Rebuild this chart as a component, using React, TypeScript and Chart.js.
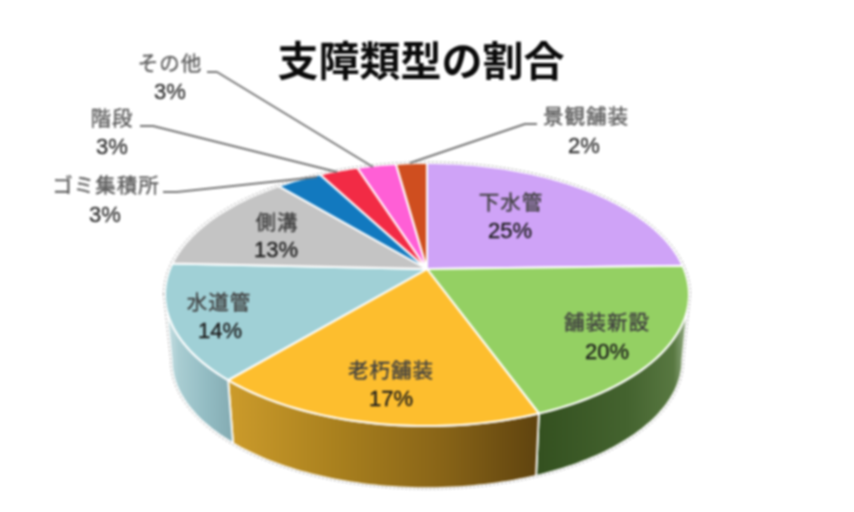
import { useEffect, useRef } from "react";
import { Chart, registerables } from "chart.js";

Chart.register(...registerables);

const categories = ["下水管", "舗装新設", "老朽舗装", "水道管", "側溝", "ゴミ集積所", "階段", "その他", "景観舗装"];
const shares = [24.6, 19.6, 17.3, 14.2, 12.8, 3.4, 2.9, 2.9, 2.3];
const sliceColors = ["#cfa3f7", "#94d063", "#fdbe2e", "#a0d0d6", "#c4c4c4", "#1279bf", "#f22b45", "#ff5fd6", "#cf4e1f"];
const chartTitle = "支障類型の割合";

// side wall shading, only the three front slices show a wall
const wallStops: Record<number, [number, string][]> = {
  1: [[0, "#33501f"], [0.6, "#44632f"], [0.9, "#587841"], [1, "#a3b895"]],
  2: [[0, "#cc9b2b"], [0.35, "#a9801e"], [0.7, "#876317"], [1, "#5f430f"]],
  3: [[0, "#cfe3e6"], [0.2, "#a9cdd2"], [0.6, "#93bcc3"], [1, "#84abb2"]],
};

// where each label sits: name x/y, percent x/y
const labelSpots = [
  [511, 202, 510, 232],
  [607, 322, 607, 353],
  [391, 370, 391, 400],
  [219, 302, 220, 332],
  [277, 222, 276, 251],
  [106, 185, 105, 216],
  [112, 118, 112, 148],
  [170, 63, 170, 93],
  [586, 116, 584, 147],
];

// leader lines for the small slices
const leaders: Record<number, number[][]> = {
  5: [[163, 192], [177, 192], [317, 177]],
  6: [[140, 126], [153, 126], [337, 172]],
  7: [[207, 72], [217, 72], [373, 167]],
  8: [[537, 124], [525, 124], [410, 163]],
};

// tilted disc
const CX = 427;
const CY = 269;
const R = 257;
const A = 126.6;
const K = 0.194;
const WALL_SCALE = 0.975;
const WALL_DROP = 66;
const WALL_FROM = (11 * Math.PI) / 180;
const WALL_TO = (169 * Math.PI) / 180;

const project = (a: number) => {
  const x = Math.cos(a);
  const y = Math.sin(a);
  const d = 1 - K * y;
  return [CX + (R * x) / d, CY + (A * y) / d];
};

const projectLow = (a: number) => {
  const [px, py] = project(a);
  return [CX + (px - CX) * WALL_SCALE, CY + (py - CY) * WALL_SCALE + WALL_DROP];
};

const rimPath = (ctx: CanvasRenderingContext2D, from: number, to: number, fn: (a: number) => number[], move = false) => {
  const steps = Math.max(2, Math.ceil(Math.abs(to - from) / 0.02));
  for (let i = 0; i <= steps; i++) {
    const [x, y] = fn(from + ((to - from) * i) / steps);
    if (i === 0 && move) ctx.moveTo(x, y);
    else ctx.lineTo(x, y);
  }
};

const discPlugin = {
  id: "disc",
  beforeDatasetsDraw(chart: any) {
    const ctx: CanvasRenderingContext2D = chart.ctx;
    const arcs = chart.getDatasetMeta(0).data;
    const colors = chart.data.datasets[0].backgroundColor;
    ctx.save();

    // walls first
    arcs.forEach((arc: any, i: number) => {
      const from = Math.max(arc.startAngle, WALL_FROM);
      const to = Math.min(arc.endAngle, WALL_TO);
      if (to <= from || !wallStops[i]) return;
      const xs = [project(from)[0], project(to)[0], projectLow(from)[0], projectLow(to)[0]];
      const g = ctx.createLinearGradient(Math.min(...xs), 0, Math.max(...xs), 0);
      wallStops[i].forEach(([p, c]) => g.addColorStop(p, c));
      ctx.beginPath();
      rimPath(ctx, from, to, project, true);
      rimPath(ctx, to, from, projectLow);
      ctx.closePath();
      ctx.fillStyle = g;
      ctx.fill();
      ctx.strokeStyle = "#ffffff";
      ctx.lineWidth = 1.8;
      ctx.stroke();
    });

    // top face
    arcs.forEach((arc: any, i: number) => {
      ctx.beginPath();
      ctx.moveTo(CX, CY);
      rimPath(ctx, arc.startAngle, arc.endAngle, project);
      ctx.closePath();
      ctx.fillStyle = colors[i];
      ctx.fill();
      ctx.strokeStyle = "#ffffff";
      ctx.lineWidth = 2;
      ctx.lineJoin = "round";
      ctx.stroke();
    });

    // faint dotted outline round the whole shape
    ctx.beginPath();
    rimPath(ctx, WALL_TO, WALL_FROM + Math.PI * 2, (a) => {
      const [x, y] = project(a);
      return [CX + (x - CX) * 1.006, 294 + (y - 294) * 1.008];
    }, true);
    rimPath(ctx, WALL_FROM, WALL_TO, (a) => {
      const [x, y] = projectLow(a);
      return [CX + (x - CX) * 1.004, y + 1];
    });
    ctx.closePath();
    ctx.setLineDash([2, 2]);
    ctx.strokeStyle = "rgba(110,110,110,0.65)";
    ctx.lineWidth = 1;
    ctx.stroke();
    ctx.setLineDash([]);
    ctx.restore();
    return false;
  },
  afterDraw(chart: any) {
    const ctx: CanvasRenderingContext2D = chart.ctx as any;
    ctx.save();
    ctx.textAlign = "center";
    ctx.textBaseline = "middle";
    ctx.lineJoin = "round";

    ctx.fillStyle = "#0a0a0a";
    ctx.font = '700 41px "Noto Sans CJK JP"';
    (ctx as any).letterSpacing = "0px";
    ctx.fillText(chartTitle, 421, 60);

    Object.values(leaders).forEach((pts) => {
      ctx.beginPath();
      pts.forEach(([x, y], n) => (n === 0 ? ctx.moveTo(x, y) : ctx.lineTo(x, y)));
      ctx.strokeStyle = "#757575";
      ctx.lineWidth = 2;
      ctx.stroke();
    });

    categories.forEach((name, i) => {
      const [nx, ny, px, py] = labelSpots[i];
      const outside = !!leaders[i];
      const nameColor = outside ? "#5c5c5c" : "#404040";
      ctx.fillStyle = nameColor;
      ctx.strokeStyle = nameColor;
      ctx.lineWidth = 0.35;
      ctx.font = '400 20.5px "Noto Sans CJK JP"';
      (ctx as any).letterSpacing = "1px";
      ctx.fillText(name, nx, ny);
      ctx.strokeText(name, nx, ny);
      const pctColor = outside ? "#303030" : "#1c1c1c";
      ctx.fillStyle = pctColor;
      ctx.strokeStyle = pctColor;
      ctx.font = '400 22px "Liberation Sans"';
      (ctx as any).letterSpacing = "0px";
      ctx.fillText(`${Math.round(shares[i])}%`, px, py);
      ctx.strokeText(`${Math.round(shares[i])}%`, px, py);
    });
    ctx.restore();
  },
};

export default function App() {
  const canvasRef = useRef<HTMLCanvasElement | null>(null);

  useEffect(() => {
    if (!canvasRef.current) return;
    const chart = new Chart(canvasRef.current, {
      type: "pie",
      data: {
        labels: categories,
        datasets: [{ data: shares, backgroundColor: sliceColors, borderColor: "#ffffff" }],
      },
      options: {
        responsive: false,
        animation: false,
        plugins: {
          legend: { display: false },
          tooltip: { enabled: false },
        },
      },
      plugins: [discPlugin as any],
    });
    return () => chart.destroy();
  }, []);

  return (
    <div style={{ position: "absolute", left: 0, top: 0, width: 854, height: 512, background: "#ffffff" }}>
      <canvas ref={canvasRef} width={854} height={512} style={{ display: "block", filter: "blur(0.8px)" }} />
    </div>
  );
}
